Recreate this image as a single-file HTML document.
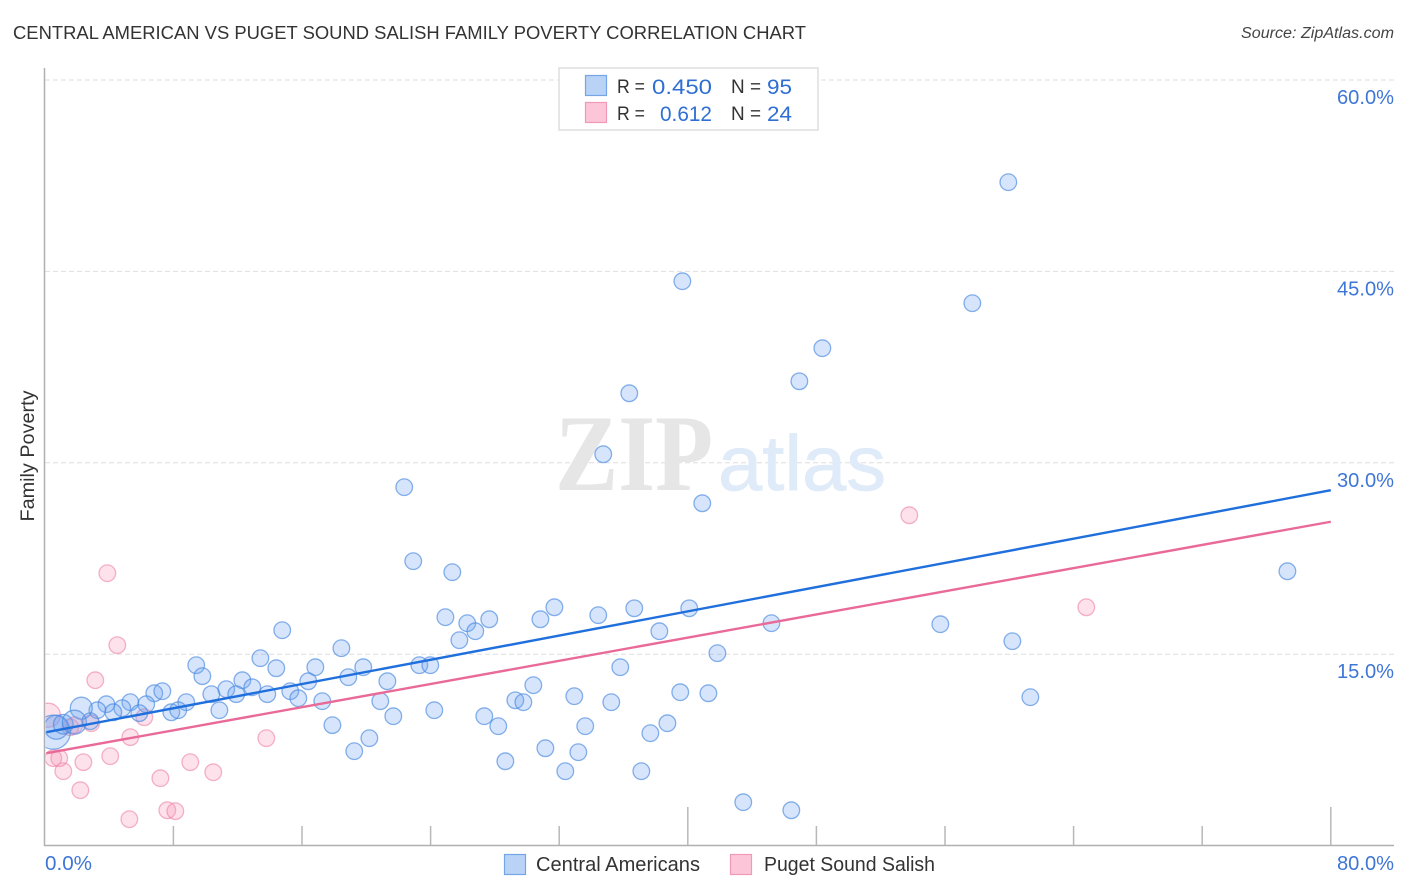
<!DOCTYPE html>
<html lang="en">
<head>
<meta charset="utf-8">
<title>Central American vs Puget Sound Salish Family Poverty Correlation Chart</title>
<style>
html,body{margin:0;padding:0;background:#fff;}
body{width:1406px;height:892px;overflow:hidden;}
svg{display:block;}
text{font-family:"Liberation Sans",sans-serif;}
</style>
</head>
<body>
<svg id="chart" xmlns="http://www.w3.org/2000/svg" width="1406" height="892" viewBox="0 0 1406 892">
  <defs>
    <clipPath id="plot-clip"><rect x="45.6" y="60" width="1350" height="785"/></clipPath>
  </defs>
  <text x="13" y="39" font-size="18.5" fill="#333" textLength="793" lengthAdjust="spacingAndGlyphs">CENTRAL AMERICAN VS PUGET SOUND SALISH FAMILY POVERTY CORRELATION CHART</text>
  <text x="1241" y="38" font-size="15.5" font-style="italic" fill="#444" textLength="153" lengthAdjust="spacingAndGlyphs">Source: ZipAtlas.com</text>

  <g id="grid"></g>

  <g>
    <text x="555" y="490" font-size="109" font-weight="bold" fill="#e6e6e6" style="font-family:'Liberation Serif',serif" textLength="158" lengthAdjust="spacingAndGlyphs">ZIP</text>
    <text x="718" y="490" font-size="78" fill="#e0ebf9" stroke="#e0ebf9" stroke-width="0.8" textLength="168" lengthAdjust="spacingAndGlyphs">atlas</text>
  </g>

  <g id="axes"></g>
  <g id="pink-points" clip-path="url(#plot-clip)"></g>
  <g id="blue-points" clip-path="url(#plot-clip)"></g>
  <g id="trends"></g>
  <g id="tick-labels"></g>

  <text transform="translate(34,456) rotate(-90)" text-anchor="middle" font-size="19" fill="#333" textLength="131" lengthAdjust="spacingAndGlyphs">Family Poverty</text>

  <g>
    <rect x="559" y="68" width="259" height="62" fill="#fff" stroke="#dedede" stroke-width="1.5"/>
    <rect x="585.5" y="75.5" width="21" height="20" fill="#b9d3f6" stroke="#74a5e6" stroke-width="1.2"/>
    <rect x="585.5" y="102.5" width="21" height="20" fill="#fcc6d8" stroke="#f09ab8" stroke-width="1.2"/>
    <text x="617" y="93" font-size="19.5" fill="#333" textLength="28" lengthAdjust="spacingAndGlyphs">R =</text>
    <text x="652" y="94" font-size="21.5" fill="#2f6fd4" textLength="60" lengthAdjust="spacingAndGlyphs">0.450</text>
    <text x="731" y="93" font-size="19.5" fill="#333" textLength="30" lengthAdjust="spacingAndGlyphs">N =</text>
    <text x="767" y="94" font-size="21.5" fill="#2f6fd4" textLength="25" lengthAdjust="spacingAndGlyphs">95</text>
    <text x="617" y="120" font-size="19.5" fill="#333" textLength="28" lengthAdjust="spacingAndGlyphs">R =</text>
    <text x="660" y="121" font-size="21.5" fill="#2f6fd4" textLength="52" lengthAdjust="spacingAndGlyphs">0.612</text>
    <text x="731" y="120" font-size="19.5" fill="#333" textLength="30" lengthAdjust="spacingAndGlyphs">N =</text>
    <text x="767" y="121" font-size="21.5" fill="#2f6fd4" textLength="25" lengthAdjust="spacingAndGlyphs">24</text>
  </g>

  <g>
    <rect x="504.5" y="854.5" width="21" height="20" fill="#b9d3f6" stroke="#74a5e6" stroke-width="1.2"/>
    <text x="536" y="871" font-size="20" fill="#333" textLength="164" lengthAdjust="spacingAndGlyphs">Central Americans</text>
    <rect x="730.5" y="854.5" width="21" height="20" fill="#fcc6d8" stroke="#f09ab8" stroke-width="1.2"/>
    <text x="764" y="871" font-size="20" fill="#333" textLength="171" lengthAdjust="spacingAndGlyphs">Puget Sound Salish</text>
  </g>
</svg>
<script>
const blueX = [59.94,39.66,57.70,48.37,46.94,36.36,34.74,22.36,40.90,22.92,25.35,77.30,31.70,36.67,40.09,34.43,30.83,27.65,24.92,26.28,26.78,25.79,14.77,45.20,55.71,38.23,60.19,18.45,41.84,13.41,35.80,9.42,14.40,16.83,19.81,23.30,23.98,9.80,18.88,21.31,12.29,16.39,30.39,12.91,6.81,7.31,11.29,10.36,11.91,13.84,15.27,15.77,17.26,39.53,41.28,61.31,32.94,35.24,29.27,29.77,20.87,8.80,5.32,6.31,3.83,4.82,3.27,4.26,2.27,5.88,7.87,8.30,10.86,24.23,21.68,27.34,28.21,33.62,38.73,17.89,37.67,20.19,19.25,31.14,33.19,28.65,32.38,37.11,43.45,46.44,0.53,0.72,1.15,1.84,2.83];
const blueY = [51.99,44.23,42.51,38.98,36.39,35.45,30.67,28.09,26.83,22.29,21.43,21.50,18.68,18.60,18.60,18.06,17.74,17.74,17.90,17.43,16.80,16.10,16.88,17.43,17.35,16.80,16.02,15.47,15.08,14.69,13.98,14.14,13.90,13.98,13.98,14.14,14.14,13.28,13.20,12.88,12.96,12.88,12.57,12.41,11.94,12.10,12.26,11.87,11.87,11.87,12.10,11.55,11.32,12.02,11.94,11.63,11.71,11.24,11.39,11.24,11.32,11.24,11.24,11.08,11.08,10.77,10.61,10.45,10.77,10.38,10.45,10.61,10.61,10.61,10.14,10.14,9.36,9.36,9.59,9.44,8.81,8.42,7.40,7.63,7.32,6.61,5.83,5.83,3.40,2.77,8.89,9.28,9.51,9.67,9.75];
const blueWeight = [1,1,1,1,1,1,1,1,1,1,1,1,1,1,1,1,1,1,1,1,1,1,1,1,1,1,1,1,1,1,1,1,1,1,1,1,1,1,1,1,1,1,1,1,1,1,1,1,1,1,1,1,1,1,1,1,1,1,1,1,1,1,1,1,1,1,1,1,1.75,1,1,1,1,1,1,1,1,1,1,1,1,1,1,1,1,1,1,1,1,1,4.2,2.1,1.4,2.1,1];
const pinkX = [3.89,4.51,3.14,53.78,64.79,0.22,1.59,1.84,2.89,6.19,5.32,13.78,9.05,10.48,4.07,2.40,1.15,2.21,7.19,7.62,8.12,5.26,0.53,0.90];
const pinkY = [21.35,15.71,12.96,25.89,18.68,10.22,9.28,9.44,9.59,10.06,8.50,8.42,6.54,5.75,7.01,6.54,5.83,4.34,5.28,2.77,2.70,2.07,6.85,6.85];
const pinkWeight = [1,1,1,1,1,2.1,1,1,1,1,1,1,1,1,1,1,1,1,1,1,1,1,1,1];
const trendXs = [0.1,80];
const blueTrend = [8.89,27.85];
const pinkTrend = [7.24,25.38];
const xTickValues = [0,8,16,24,32,40,48,56,64,72,80];
const xMajorTicks = [40,80];
const xLabelValues = ["0.0%","80.0%"];
const yTickValues = [15,30,45,60];
const yTickLabels = ["15.0%","30.0%","45.0%","60.0%"];

const NS = "http://www.w3.org/2000/svg";
const xScale = function (v) { return 44.8 + v * 16.075; };
const yScale = function (v) { return 845.6 - v * 12.76; };
const rScale = function (w) { return 8.3 * Math.sqrt(w); };

function mk(tag, parentId, attrs) {
  const el = document.createElementNS(NS, tag);
  Object.keys(attrs).forEach(function (k) { el.setAttribute(k, attrs[k]); });
  document.getElementById(parentId).appendChild(el);
  return el;
}

yTickValues.forEach(function (v, i) {
  const line = mk("line", "grid", {x1: 45, x2: 1394, y1: yScale(v), y2: yScale(v), stroke: "#dedede", "stroke-width": 1, "stroke-dasharray": "5 3"});
  
  
  const t = mk("text", "tick-labels", {x: 1394, y: yScale(v) + 24, "text-anchor": "end", "font-size": 20, fill: "#3f76d6", textLength: 57, lengthAdjust: "spacingAndGlyphs"});
  t.textContent = yTickLabels[i];
  
  
});

const yAxisLine = mk("line", "axes", {x1: 44.5, x2: 44.5, y1: 68, y2: 846, stroke: "#b0b0b0", "stroke-width": 1.5});


const xAxisLine = mk("line", "axes", {x1: 44, x2: 1394, y1: 845.5, y2: 845.5, stroke: "#b0b0b0", "stroke-width": 1.5});



xTickValues.forEach(function (v) {
  if (v === 0) return;
  const top = xMajorTicks.indexOf(v) >= 0 ? 807 : 826;
  const tick = mk("line", "axes", {x1: xScale(v), x2: xScale(v), y1: top, y2: 845, stroke: "#b8b8b8", "stroke-width": 1.5});
  
  
});

const xLabelLeft = mk("text", "tick-labels", {x: 45, y: 870, "font-size": 20, fill: "#3f76d6", textLength: 47, lengthAdjust: "spacingAndGlyphs"});
xLabelLeft.textContent = xLabelValues[0];


const xLabelRight = mk("text", "tick-labels", {x: 1394, y: 870, "text-anchor": "end", "font-size": 20, fill: "#3f76d6", textLength: 57, lengthAdjust: "spacingAndGlyphs"});
xLabelRight.textContent = xLabelValues[1];



pinkX.forEach(function (v, i) {
  const c = mk("circle", "pink-points", {cx: xScale(v), cy: yScale(pinkY[i]), r: rScale(pinkWeight[i]), fill: "rgba(248,150,182,0.28)", stroke: "rgba(236,128,165,0.60)", "stroke-width": 1.3});
  
  
});

blueX.forEach(function (v, i) {
  const c = mk("circle", "blue-points", {cx: xScale(v), cy: yScale(blueY[i]), r: rScale(blueWeight[i]), fill: "rgba(108,163,240,0.28)", stroke: "rgba(70,135,222,0.65)", "stroke-width": 1.3});
  
  
});

const pinkLine = mk("line", "trends", {x1: xScale(trendXs[0]), x2: xScale(trendXs[1]), y1: yScale(pinkTrend[0]), y2: yScale(pinkTrend[1]), stroke: "#e96a98", "stroke-width": 2.4});


const blueLine = mk("line", "trends", {x1: xScale(trendXs[0]), x2: xScale(trendXs[1]), y1: yScale(blueTrend[0]), y2: yScale(blueTrend[1]), stroke: "#1f6fdc", "stroke-width": 2.4});


</script>
</body>
</html>
